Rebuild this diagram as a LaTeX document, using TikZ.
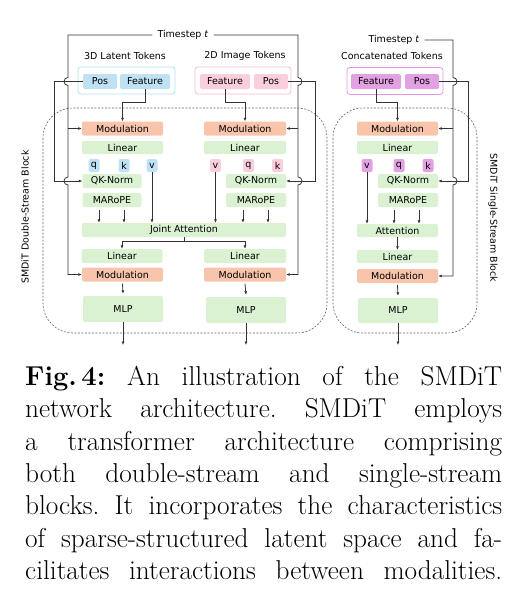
\documentclass[tikz,border=0pt]{standalone}
\usepackage{fontspec}
\newfontfamily\diagfont{DejaVu Sans}
\usetikzlibrary{arrows.meta,calc}
\definecolor{modc}{HTML}{F8C4AC}
\definecolor{grn}{HTML}{DAF2D2}
\definecolor{blu}{HTML}{BEE2F4}
\definecolor{bluB}{HTML}{B6DEF4}
\definecolor{pnk}{HTML}{FBCEDC}
\definecolor{pnkB}{HTML}{F8BCD0}
\definecolor{pur}{HTML}{E2A2E2}
\definecolor{purB}{HTML}{E596E5}
\definecolor{linec}{HTML}{333333}
\definecolor{dashc}{HTML}{666666}
\begin{document}
\begin{tikzpicture}[x=1pt,y=-1pt,
  line/.style={draw=linec, line width=0.8pt},
  arr/.style={line, -{Latex[length=3.5pt,width=3pt]}},
  blk/.style={rounded corners=2pt, inner sep=0pt, font=\diagfont\fontsize{9.5}{10}\selectfont, text=black},
  modbox/.style={blk, fill=modc, minimum width=81pt, minimum height=14pt},
  grnbox/.style={blk, fill=grn, minimum width=81pt, minimum height=14pt},
  smallbox/.style={blk, minimum width=60pt, fill=grn, minimum height=14pt},
  mlpbox/.style={blk, fill=grn, minimum width=80pt, minimum height=26pt},
  tokbox/.style={blk, minimum height=15pt},
  letterbox/.style={blk, minimum width=11pt, minimum height=13pt},
  outerbox/.style={rounded corners=3pt, line width=0.8pt, fill=white, minimum height=27pt, minimum width=96pt, inner sep=0pt},
  lab/.style={inner sep=0pt, font=\diagfont\fontsize{9.5}{10}\selectfont},
  dashbox/.style={draw=dashc, line width=0.6pt, dash pattern=on 2pt off 1.5pt, rounded corners=30pt}
]
\useasboundingbox (0,0) rectangle (521,610);

% dashed block frames
\draw[dashbox] (43,108) rectangle (327,333);
\draw[dashbox] (333,108) rectangle (477,333);
\node[lab, rotate=90] (dsl) at (25,217) {SMDiT Double-Stream Block};
\node[lab, rotate=-90] (ssl) at (493,218) {SMDiT Single-Stream Block};

% token groups
\node[outerbox, draw=bluB, minimum width=97pt] (o3d) at (126.5,80.5) {};
\node[tokbox, fill=blu, minimum width=34pt] (pos3d) at (100,81.5) {Pos};
\node[tokbox, fill=blu, minimum width=50pt] (feat3d) at (145,81.5) {Feature};
\node[lab] (l3d) at (125,56) {3D Latent Tokens};

\node[outerbox, draw=pnkB] (o2d) at (243,80.5) {};
\node[tokbox, fill=pnk, minimum width=50pt] (feat2d) at (225,81.5) {Feature};
\node[tokbox, fill=pnk, minimum width=34pt] (pos2d) at (271,81.5) {Pos};
\node[lab] (l2d) at (245,56) {2D Image Tokens};

\node[outerbox, draw=purB] (oc) at (395,81) {};
\node[tokbox, fill=pur, minimum width=50pt] (featc) at (376,81.5) {Feature};
\node[tokbox, fill=pur, minimum width=34pt] (posc) at (422,81.5) {Pos};
\node[lab] (lc) at (392,56) {Concatenated Tokens};

\node[lab, inner xsep=5pt] (ts1) at (183,35) {Timestep \textit{t}};
\node[lab, inner xsep=5pt] (ts2) at (394,40) {Timestep \textit{t}};

% left stream
\node[modbox] (modL1) at (122.5,128.5) {Modulation};
\node[grnbox, minimum height=13pt] (linL1) at (122.5,147.5) {Linear};
\node[letterbox, fill=blu] (qL) at (94,165.5) {q};
\node[letterbox, fill=blu] (kL) at (124,165.5) {k};
\node[letterbox, fill=blu] (vL) at (152,165.5) {v};
\node[smallbox, minimum width=59pt] (qkL) at (112,181) {QK-Norm};
\node[smallbox, minimum width=59pt] (ropeL) at (112,200) {MARoPE};
\node[grnbox, minimum width=204pt] (joint) at (184,230) {Joint Attention};
\node[grnbox] (linL2) at (122,256) {Linear};
\node[modbox] (modL2) at (122.5,274.5) {Modulation};
\node[mlpbox] (mlpL) at (123,309) {MLP};

% right stream
\node[modbox, minimum width=82pt] (modR1) at (245,128.5) {Modulation};
\node[grnbox, minimum width=82pt, minimum height=13pt] (linR1) at (245,147.5) {Linear};
\node[letterbox, fill=pnk] (vR) at (215.5,165.5) {v};
\node[letterbox, fill=pnk] (qR) at (248.5,165.5) {q};
\node[letterbox, fill=pnk] (kR) at (277.5,165.5) {k};
\node[smallbox] (qkR) at (256,181) {QK-Norm};
\node[smallbox] (ropeR) at (256,200) {MARoPE};
\node[grnbox, minimum width=82pt] (linR2) at (245,256) {Linear};
\node[modbox, minimum width=82pt] (modR2) at (245,274.5) {Modulation};
\node[mlpbox] (mlpR) at (246,310) {MLP};

% single stream
\node[modbox] (modS1) at (397.5,128.5) {Modulation};
\node[grnbox, minimum height=13pt] (linS1) at (397.5,147.5) {Linear};
\node[letterbox, fill=pur] (vS) at (367,165.5) {v};
\node[letterbox, fill=pur] (qS) at (399,165.5) {q};
\node[letterbox, fill=pur] (kS) at (428,165.5) {k};
\node[smallbox] (qkS) at (408,181) {QK-Norm};
\node[smallbox] (ropeS) at (408,200) {MARoPE};
\node[grnbox, minimum height=13pt] (attS) at (397.5,230.5) {Attention};
\node[grnbox, minimum height=13pt] (linS2) at (397.5,256.5) {Linear};
\node[modbox] (modS2) at (397.5,276) {Modulation};
\node[mlpbox, minimum height=25pt] (mlpS) at (398,310.5) {MLP};

\coordinate (outL) at (123,345);
\coordinate (outR) at (246,345);
\coordinate (outS) at (398,345);

% timestep rails
\draw[arr] (ts1.west) -- (68,35) -- (68,77.5) arc[start angle=270,end angle=90,radius=4]
  -- (68,177) arc[start angle=270,end angle=90,radius=4] -- (68,274.5) -- (modL2.west);
\draw[arr] (modL1.west -| 68,0) -- (modL1.west);
\draw[arr] (ts1.east) -- (298,35) -- (298,77.5) arc[start angle=-90,end angle=90,radius=4]
  -- (298,177) arc[start angle=-90,end angle=90,radius=4] -- (298,274.5) -- (modR2.east);
\draw[arr] (modR1.east -| 298,0) -- (modR1.east);
\draw[arr] (ts2.east) -- (453,40) -- (453,77.5) arc[start angle=-90,end angle=90,radius=4]
  -- (453,177) arc[start angle=-90,end angle=90,radius=4] -- (453,276) -- (modS2.east);
\draw[arr] (modS1.east -| 453,0) -- (modS1.east);

% pos lines
\draw[arr] (pos3d.west) -- (54,81.5) -- (54,181) -- (qkL.west);
\draw[arr] (pos2d.east) -- (315,81.5) -- (315,181) -- (qkR.east);
\draw[arr] (posc.east) -- (468,81.5) -- (468,181) -- (qkS.east);

% feature lines
\draw[arr] (feat3d.south) -- ++(0,13) -| (modL1.north);
\draw[arr] (feat2d.south) -- ++(0,13) -| (modR1.north);
\draw[arr] (featc.south) -- ++(0,13) -| (modS1.north);

% left stream internal
\draw[arr] ([xshift=-13pt,yshift=-3pt]ropeL.south) -- ([xshift=-13pt]ropeL.south |- joint.north);
\draw[arr] ([xshift=12pt,yshift=-3pt]ropeL.south) -- ([xshift=12pt]ropeL.south |- joint.north);
\draw[arr] (vL.south) -- (vL.south |- joint.north);
\draw[arr] ([xshift=-13pt,yshift=-3pt]ropeR.south) -- ([xshift=-13pt]ropeR.south |- joint.north);
\draw[arr] ([xshift=12pt,yshift=-3pt]ropeR.south) -- ([xshift=12pt]ropeR.south |- joint.north);
\draw[arr] (vR.south) -- (vR.south |- joint.north);
\draw[line] (joint.south) -- ++(0,4) coordinate (jsplit);
\draw[arr] (jsplit) -| (linL2.north);
\draw[arr] (jsplit) -| (linR2.north);
\draw[arr] ([yshift=-2pt]modL2.south) -- ([yshift=2pt]mlpL.north);
\draw[arr] ([yshift=-2pt]modR2.south) -- ([yshift=2pt]mlpR.north);
\draw[arr] (mlpL.south) -- (outL);
\draw[arr] (mlpR.south) -- (outR);

% single stream internal
\draw[arr] ([xshift=-14pt,yshift=-3pt]ropeS.south) -- ([xshift=-14pt]ropeS.south |- attS.north);
\draw[arr] ([xshift=11pt,yshift=-3pt]ropeS.south) -- ([xshift=11pt]ropeS.south |- attS.north);
\draw[arr] (vS.south) -- (vS.south |- attS.north);
\draw[arr] (attS.south) -- (linS2.north);
\draw[arr] ([yshift=-2pt]modS2.south) -- ([yshift=2pt]mlpS.north);
\draw[arr] (mlpS.south) -- (outS);

% caption
\node[inner sep=0pt, anchor=north west] (cap) at (25,366) {\begin{minipage}[t]{477pt}\fontsize{27.3}{32.3}\selectfont\frenchspacing\parfillskip=0pt\relax
\textbf{Fig.\,4:} An illustration of the SMDiT\linebreak
network architecture. SMDiT employs\linebreak
a transformer architecture comprising\linebreak
both double-stream and single-stream\linebreak
blocks. It incorporates the characteristics\linebreak
of sparse-structured latent space and fa-\linebreak
cilitates interactions between modalities.\end{minipage}};
\end{tikzpicture}
\end{document}
